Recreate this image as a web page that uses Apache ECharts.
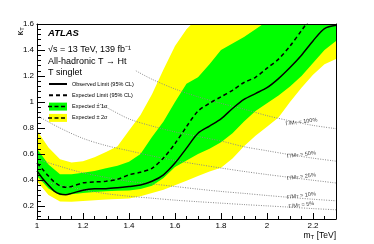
<!DOCTYPE html>
<html>
<head>
<meta charset="utf-8">
<script src="https://cdn.jsdelivr.net/npm/echarts@6/dist/echarts.min.js"></script>
<style>
html,body{margin:0;padding:0;background:#fff;}
#chart{width:374px;height:244px;}
</style>
</head>
<body>
<div id="chart"></div>
<script>
// ---- data ----
const bandX      = [1.00,1.05,1.10,1.15,1.20,1.25,1.30,1.35,1.40,1.45,1.50,1.55,1.60,1.65,1.70,1.75,1.80,1.85,1.90,1.95,2.00,2.05,2.10,2.15,2.20,2.25,2.30];
const yellowLow  = [0.39,0.285,0.235,0.232,0.238,0.245,0.25,0.253,0.258,0.275,0.30,0.325,0.36,0.395,0.43,0.465,0.495,0.565,0.66,0.74,0.81,0.88,1.00,1.11,1.21,1.29,1.33];
const yellowHigh = [0.78,0.65,0.56,0.535,0.545,0.575,0.615,0.66,0.78,0.90,1.06,1.25,1.43,1.56,1.65,1.72,1.80,1.88,1.95,2.02,2.10,2.17,2.25,2.32,2.40,2.47,2.55];
const greenLow   = [0.43,0.335,0.283,0.29,0.30,0.308,0.313,0.317,0.32,0.33,0.355,0.415,0.50,0.55,0.60,0.64,0.69,0.76,0.85,0.93,0.99,1.05,1.12,1.20,1.30,1.40,1.47];
const greenHigh  = [0.64,0.52,0.445,0.445,0.455,0.47,0.49,0.51,0.54,0.60,0.73,0.85,1.00,1.14,1.19,1.29,1.40,1.45,1.50,1.56,1.62,1.68,1.75,1.82,1.90,1.97,2.05];

const limX     = [1.00,1.025,1.05,1.075,1.10,1.125,1.15,1.20,1.25,1.30,1.35,1.40,1.45,1.50,1.55,1.60,1.65,1.70,1.75,1.80,1.85,1.90,1.95,2.00,2.05,2.10,2.15,2.20,2.25,2.30];
const observed = [0.47,0.41,0.36,0.315,0.292,0.287,0.297,0.322,0.332,0.333,0.34,0.35,0.362,0.39,0.44,0.53,0.645,0.76,0.815,0.87,0.95,1.02,1.065,1.11,1.18,1.265,1.36,1.47,1.565,1.59];
const expected = [0.53,0.48,0.43,0.385,0.355,0.345,0.35,0.378,0.385,0.39,0.405,0.44,0.46,0.49,0.57,0.68,0.81,0.93,0.99,1.04,1.09,1.15,1.19,1.26,1.33,1.43,1.55,1.67,1.78,1.90];

const widthX = [1.0,1.1,1.2,1.3,1.4,1.5,1.6,1.7,1.8,1.9,2.0,2.1,2.2,2.3];
const w5     = [0.40,0.36,0.325,0.295,0.275,0.26,0.245,0.233,0.222,0.211,0.201,0.191,0.18,0.171];
const w10    = [0.56,0.505,0.455,0.42,0.39,0.37,0.35,0.33,0.312,0.297,0.281,0.266,0.252,0.24];
const w25    = [0.895,0.80,0.72,0.665,0.625,0.585,0.55,0.52,0.492,0.466,0.442,0.42,0.398,0.377];
const w50X   = [1.265,1.3,1.4,1.5,1.6,1.7,1.8,1.9,2.0,2.1,2.2,2.3];
const w50    = [0.99,0.96,0.87,0.815,0.77,0.735,0.70,0.656,0.625,0.595,0.568,0.545];
const w100X  = [1.43,1.5,1.6,1.7,1.8,1.9,2.0,2.1,2.2,2.3];
const w100   = [1.24,1.175,1.10,1.04,0.99,0.945,0.895,0.855,0.82,0.795];

const xMajorTicks = [1, 1.2, 1.4, 1.6, 1.8, 2, 2.2];
const xMinorTicks = [1.05,1.1,1.15,1.25,1.3,1.35,1.45,1.5,1.55,1.65,1.7,1.75,1.85,1.9,1.95,2.05,2.1,2.15,2.25];
const yMajorTicks = [0.2, 0.4, 0.6, 0.8, 1, 1.2, 1.4, 1.6];
const yMinorTicks = [0.12,0.16,0.24,0.28,0.32,0.36,0.44,0.48,0.52,0.56,0.64,0.68,0.72,0.76,0.84,0.88,0.92,0.96,1.04,1.08,1.12,1.16,1.24,1.28,1.32,1.36,1.44,1.48,1.52,1.56];

const FONT = '"Liberation Sans", Arial, Helvetica, sans-serif';
const zip = (xs, ys) => xs.map((x, i) => [x, ys[i]]);

const chart = echarts.init(document.getElementById('chart'), null, {renderer: 'canvas'});

const legendLeft = 48, legendTop = 80, itemH = 8, itemGap = 3.3, itemW = 18;
const swatchY = i => legendTop + itemH / 2 + i * (itemH + itemGap);

// band drawn as one polygon through the chart's own coordinate system
function bandSeries(name, lo, hi, color, z) {
  return {
    name: name, type: 'custom', coordinateSystem: 'cartesian2d', clip: true, silent: true, z: z,
    itemStyle: {color: color},
    encode: {x: 0, y: [1, 2]},
    data: bandX.map((x, i) => [x, lo[i], hi[i]]),
    renderItem: function (params, api) {
      if (params.dataIndex !== 0) return null;
      const upper = bandX.map((x, i) => api.coord([x, hi[i]]));
      const lower = bandX.map((x, i) => api.coord([x, lo[i]])).reverse();
      const cs = params.coordSys;
      return {
        type: 'polygon',
        shape: {points: upper.concat(lower), smooth: 0},
        style: {fill: color, stroke: null},
        clipPath: {type: 'rect', shape: {x: cs.x, y: cs.y, width: cs.width, height: cs.height}}
      };
    }
  };
}

function widthLabel(txt, xs, ys, dx, dy) {
  const i = xs.indexOf(2.2);
  return {
    symbol: 'none',
    silent: true,
    animation: false,
    data: [{
      coord: [xs[i], ys[i]],
      symbol: 'circle', symbolSize: 0,
      label: {
        show: true, position: 'inside', offset: [dx, dy], rotate: 7,
        formatter: '{a|Γ/M}{s|T}{a| = ' + txt + '}',
        rich: {
          a: {fontSize: 5.5, color: '#333', fontFamily: FONT},
          s: {fontSize: 4, color: '#333', fontFamily: FONT, verticalAlign: 'bottom'}
        }
      }
    }]
  };
}

const dotted = {color: '#8a8a8a', width: 1, type: [1, 1.4]};

const option = {
  animation: false,
  backgroundColor: '#fff',
  textStyle: {fontFamily: FONT},
  grid: {left: 37, right: 38, top: 24, bottom: 25, show: false, containLabel: false, outerBoundsMode: 'none'},
  title: [
    {text: 'ATLAS', left: 48, top: 28, padding: 0, textStyle: {fontFamily: FONT, fontSize: 9.5, fontWeight: 'bold', fontStyle: 'italic', color: '#000', lineHeight: 11}},
    {text: '√s = 13 TeV, 139 fb⁻¹', left: 48, top: 44.5, padding: 0, textStyle: {fontFamily: FONT, fontSize: 9, fontWeight: 'normal', color: '#000', lineHeight: 11}},
    {text: 'All-hadronic T → Ht', left: 48, top: 56, padding: 0, textStyle: {fontFamily: FONT, fontSize: 9, fontWeight: 'normal', color: '#000', lineHeight: 11}},
    {text: 'T singlet', left: 48, top: 67, padding: 0, textStyle: {fontFamily: FONT, fontSize: 9, fontWeight: 'normal', color: '#000', lineHeight: 11}}
  ],
  legend: {
    orient: 'vertical', left: legendLeft, top: legendTop, padding: 0,
    itemWidth: itemW, itemHeight: itemH, itemGap: itemGap,
    textStyle: {fontFamily: FONT, fontSize: 5.5, color: '#000', lineHeight: itemH},
    selectedMode: false,
    data: [
      {name: 'Observed Limit (95% CL)', itemStyle: {opacity: 0}},
      {name: 'Expected Limit (95% CL)', itemStyle: {opacity: 0}},
      {name: 'Expected ± 1σ', icon: 'rect', itemStyle: {color: '#00ff00', borderWidth: 0}},
      {name: 'Expected ± 2σ', icon: 'rect', itemStyle: {color: '#ffff00', borderWidth: 0}}
    ]
  },
  xAxis: [
    {
      type: 'value', min: 1, max: 2.3, position: 'bottom', z: 10,
      axisLine: {show: true, lineStyle: {color: '#000', width: 1}},
      axisTick: {show: true, inside: true, length: 6, customValues: xMajorTicks, lineStyle: {color: '#000', width: 1}},
      axisLabel: {show: true, customValues: xMajorTicks, margin: 3, fontSize: 8, color: '#000', fontFamily: FONT, formatter: v => String(v)},
      splitLine: {show: false},
      name: 'm{s|T} [TeV]', nameLocation: 'end', nameGap: 0, nameMoveOverlap: false,
      nameTextStyle: {align: 'right', verticalAlign: 'top', padding: [12, 0, 0, 0], fontSize: 8.5, color: '#000', fontFamily: FONT,
        rich: {s: {fontSize: 6, color: '#000', fontFamily: FONT, verticalAlign: 'bottom', padding: [3, 0, 0, 0]}}}
    },
    {
      type: 'value', min: 1, max: 2.3, position: 'bottom', z: 10,
      axisLine: {show: false},
      axisTick: {show: true, inside: true, length: 3, customValues: xMinorTicks, lineStyle: {color: '#000', width: 1}},
      axisLabel: {show: false}, splitLine: {show: false}
    },
    {
      type: 'value', min: 1, max: 2.3, position: 'top', z: 10,
      axisLine: {show: true, lineStyle: {color: '#000', width: 1}},
      axisTick: {show: false}, axisLabel: {show: false}, splitLine: {show: false}
    }
  ],
  yAxis: [
    {
      type: 'value', min: 0.1, max: 1.6, position: 'left', z: 10,
      axisLine: {show: true, lineStyle: {color: '#000', width: 1}},
      axisTick: {show: true, inside: true, length: 8, customValues: yMajorTicks, lineStyle: {color: '#000', width: 1}},
      axisLabel: {show: true, customValues: yMajorTicks, margin: 3, fontSize: 8, color: '#000', fontFamily: FONT, formatter: v => String(v)},
      splitLine: {show: false},
      name: 'κ{s|T}', nameLocation: 'end', nameGap: 0, nameRotate: 90, nameMoveOverlap: false,
      nameTextStyle: {align: 'right', verticalAlign: 'bottom', padding: [0, 3, 12, 0], fontSize: 9, color: '#000', fontFamily: FONT,
        rich: {s: {fontSize: 6, color: '#000', fontFamily: FONT, verticalAlign: 'bottom'}}}
    },
    {
      type: 'value', min: 0.1, max: 1.6, position: 'left', z: 10,
      axisLine: {show: false},
      axisTick: {show: true, inside: true, length: 4, customValues: yMinorTicks, lineStyle: {color: '#000', width: 1}},
      axisLabel: {show: false}, splitLine: {show: false}
    },
    {
      type: 'value', min: 0.1, max: 1.6, position: 'right', z: 10,
      axisLine: {show: true, lineStyle: {color: '#000', width: 1}},
      axisTick: {show: false}, axisLabel: {show: false}, splitLine: {show: false}
    }
  ],
  series: [
    bandSeries('Expected ± 2σ', yellowLow, yellowHigh, '#ffff00', 1),
    bandSeries('Expected ± 1σ', greenLow, greenHigh, '#00ff00', 2),

    {name: 'w100', type: 'line', data: zip(w100X, w100), symbol: 'none', smooth: 0.3, lineStyle: dotted, z: 3, silent: true, markPoint: widthLabel('100%', w100X, w100, -11, -5)},
    {name: 'w50', type: 'line', data: zip(w50X, w50), symbol: 'none', smooth: 0.3, lineStyle: dotted, z: 3, silent: true, markPoint: widthLabel('50%', w50X, w50, -11, -5)},
    {name: 'w25', type: 'line', data: zip(widthX, w25), symbol: 'none', smooth: 0.3, lineStyle: dotted, z: 3, silent: true, markPoint: widthLabel('25%', widthX, w25, -11, -5)},
    {name: 'w10', type: 'line', data: zip(widthX, w10), symbol: 'none', smooth: 0.3, lineStyle: dotted, z: 3, silent: true, markPoint: widthLabel('10%', widthX, w10, -11, -5)},
    {name: 'w5', type: 'line', data: zip(widthX, w5), symbol: 'none', smooth: 0.3, lineStyle: dotted, z: 3, silent: true, markPoint: widthLabel('5%', widthX, w5, -11, -5)},

    {name: 'Expected Limit (95% CL)', type: 'line', data: zip(limX, expected), symbol: 'none', smooth: 0.3, color: '#000', lineStyle: {color: '#000', width: 1.5, type: [4, 3]}, z: 4, silent: true},
    {name: 'Observed Limit (95% CL)', type: 'line', data: zip(limX, observed), symbol: 'none', smooth: 0.3, color: '#000', lineStyle: {color: '#000', width: 1.5}, z: 5, silent: true}
  ],
  graphic: [
    {type: 'line', z: 100, shape: {x1: legendLeft, y1: swatchY(2), x2: legendLeft + itemW, y2: swatchY(2)}, style: {stroke: '#000', lineWidth: 1.5, lineDash: [4, 2.5]}},
    {type: 'line', z: 100, shape: {x1: legendLeft, y1: swatchY(3), x2: legendLeft + itemW, y2: swatchY(3)}, style: {stroke: '#000', lineWidth: 1.5, lineDash: [4, 2.5]}}
  ]
};
chart.setOption(option);
</script>
</body>
</html>
